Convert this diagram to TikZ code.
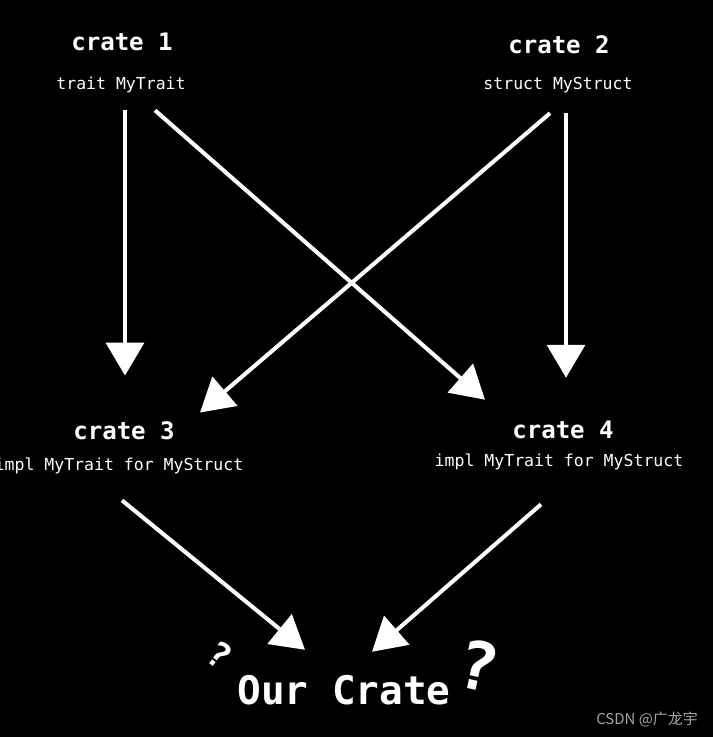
\documentclass[tikz,border=0pt]{standalone}
\usepackage{fontspec}
\setmonofont{DejaVu Sans Mono}
\newfontfamily\cjk{Noto Sans CJK SC}
\usepackage{tikz}
\usetikzlibrary{arrows.meta,calc}

\begin{document}
\begin{tikzpicture}[
    x=0.02cm, y=-0.02cm,
    head/.style={inner sep=0pt, text=white, font=\ttfamily\bfseries\fontsize{13.7}{16}\selectfont},
    sub/.style={inner sep=0pt, text=white, font=\ttfamily\fontsize{9.4}{11}\selectfont},
    arr/.style={-{Triangle[length=18.7pt, width=21.5pt]}, white, line width=2.3pt},
    qm/.style={inner sep=0pt, text=white}
]
\clip (0,0) rectangle (713,737);
\fill[black] (0,0) rectangle (713,737);

\node[head] (h1) at (122,42) {crate 1};
\node[sub]  (t1) at (121,85) {trait MyTrait};
\node[head] (h2) at (559,45) {crate 2};
\node[sub]  (t2) at (558,85) {struct MyStruct};
\node[head] (h3) at (124,431) {crate 3};
\node[sub]  (t3) at (119,466) {impl MyTrait for MyStruct};
\node[head] (h4) at (563,430) {crate 4};
\node[sub]  (t4) at (559,462) {impl MyTrait for MyStruct};
\node[inner sep=0pt, text=white, font=\ttfamily\bfseries\fontsize{22.4}{26}\selectfont] (our) at (344,690) {Our Crate};

% puzzled marks
\node[qm, font=\ttfamily\bfseries\fontsize{20}{24}\selectfont, rotate=-35] (q1) at (220,655) {?};
\node[qm, font=\ttfamily\bfseries\fontsize{38}{44}\selectfont, rotate=-12] (q2) at (478,665) {?};

\draw[arr] ($(t1.south)+(4,17)$) -- ($(h3.north)+(1,-46)$);
\draw[arr] ($(t1.south)+(34,17)$) -- ($(h4.north)+(-78,-21)$);
\draw[arr] ($(t2.south)+(-8,20)$) -- ($(h3.north)+(76,-9)$);
\draw[arr] ($(t2.south)+(8,20)$) -- ($(h4.north)+(3,-43)$);
\draw[arr] ($(t3.south)+(3,26)$) -- ($(our.north)+(-39,-25)$);
\draw[arr] ($(t4.south)+(-18,34)$) -- ($(our.north)+(28,-23)$);

\node[inner sep=0pt, text=black!35, font=\cjk\fontsize{8.5}{10}\selectfont] (mark) at (647,720) {CSDN @广龙宇};
\end{tikzpicture}
\end{document}
